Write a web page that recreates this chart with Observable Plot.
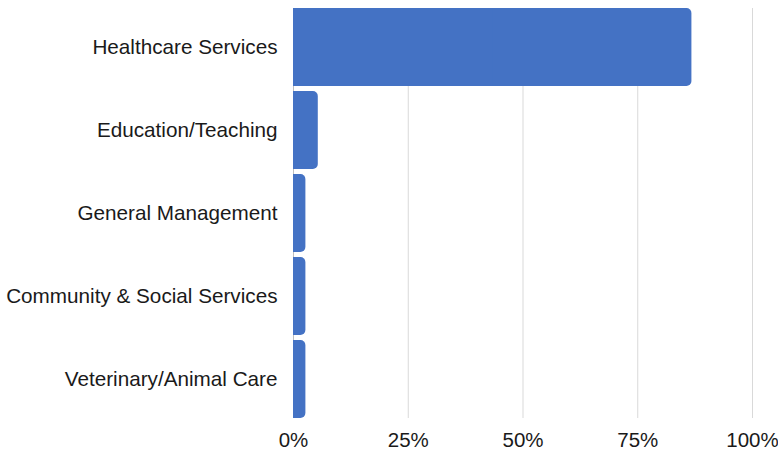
<!DOCTYPE html>
<html>
<head>
<meta charset="utf-8">
<script src="https://cdn.jsdelivr.net/npm/d3@7"></script>
<script src="https://cdn.jsdelivr.net/npm/@observablehq/plot@0.6"></script>
<style>
  html, body { margin: 0; padding: 0; background: #fff; }
  #chart svg { display: block; }
</style>
</head>
<body>
<div id="chart"></div>
<script>
const categories = [
  "Healthcare Services",
  "Education/Teaching",
  "General Management",
  "Community & Social Services",
  "Veterinary/Animal Care"
];
const values = [86.8, 5.4, 2.7, 2.7, 2.7];
const xTicks = [0, 25, 50, 75, 100];

const data = categories.map((c, i) => ({category: c, value: values[i]}));

const chart = Plot.plot({
  width: 778,
  height: 450,
  marginLeft: 293,
  marginRight: 26,
  marginTop: 8,
  marginBottom: 32,
  style: {fontFamily: "'Liberation Sans', Arial, sans-serif", fontSize: "20.7px", color: "#1a1a1a", background: "#fff"},
  x: {domain: [0, 100], ticks: xTicks, tickFormat: d => d + "%", tickSize: 0, tickPadding: 14, label: null},
  y: {domain: categories, paddingInner: 5 / 83, paddingOuter: 0, round: false, tickSize: 0, tickPadding: 16, label: null},
  marks: [
    Plot.ruleX(xTicks.filter(d => d > 0), {stroke: "#d9d9d9", strokeWidth: 1}),
    Plot.ruleX([0], {stroke: "#bfbfbf", strokeWidth: 1}),
    Plot.barX(data, {y: "category", x1: 0, x2: "value", fill: "#4472C4", rx: 5}),
    Plot.barX(data, {y: "category", x1: 0, x2: d => d.value / 2, fill: "#4472C4"}),
    Plot.axisX({ticks: xTicks, tickFormat: d => d + "%", tickSize: 0, tickPadding: 14, fontSize: 20.5}),
    Plot.axisY({tickSize: 0, tickPadding: 16, fontSize: 20.7})
  ]
});
document.getElementById("chart").appendChild(chart);
</script>
</body>
</html>
